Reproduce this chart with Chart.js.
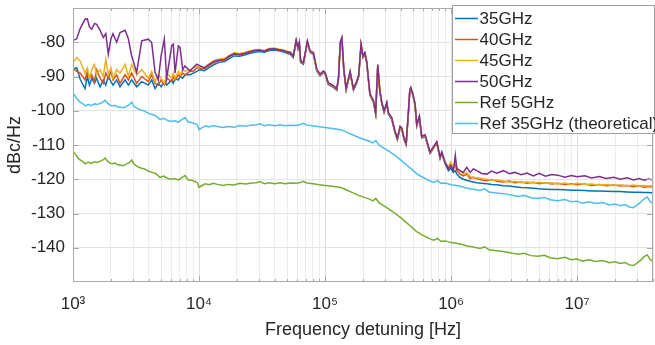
<!DOCTYPE html>
<html>
<head>
<meta charset="utf-8">
<script src="https://cdn.jsdelivr.net/npm/chart.js@4.4.1/dist/chart.umd.min.js"></script>
<style>
  html, body { margin: 0; padding: 0; background: #fff; }
  #wrap { width: 655px; height: 345px; }
</style>
</head>
<body>
<div id="wrap"><canvas id="phaseNoiseChart" width="655" height="345"></canvas></div>
<script>
// frequency points (Hz) shared by the four measured curves
const measFreq = [
  // 1 kHz - 10 kHz
  1000, 1070, 1140, 1245, 1300, 1350, 1410, 1480, 1540, 1640,
  1740, 1820, 1906, 2000, 2077, 2220, 2360, 2590, 2750, 2920,
  3200, 3510, 3960, 4210, 4480, 4750, 5000, 5300, 5540, 6070,
  6250, 6450, 6850, 7070, 7420, 7740, 8480, 9010, 9590, 10200,
  // 10 kHz - 56 kHz
  11000, 12000, 13200, 14500, 16000, 17500, 19000, 21000, 23000, 25000,
  27500, 30000, 33000, 36000, 39500, 43000, 46500, 50000, 53000, 56000,
  // spurs region
  59000, 61000, 62500, 64000, 67300, 72400, 76000, 80800, 86000, 91200,
  97000, 100000, 106000, 116000, 124000, 128000, 132000, 136000, 141000, 147000,
  158000, 168000, 178000, 185000, 193000, 200000, 207000, 214000, 227000, 242000,
  252000, 262000, 272000, 282000, 294000, 309000, 318000, 338000, 359000, 375000,
  394000, 406000, 424000, 440000, 459000, 470000, 479000, 497000, 518000, 534000,
  560000, 585000, 622000, 681000, 724000, 770000, 818000, 844000, 896000, 952000,
  995000,
  // 1 MHz - 40 MHz
  1043000, 1080000, 1110000, 1178000, 1250000, 1330000, 1415000, 1500000, 1600000, 1750000,
  1920000, 2100000, 2300000, 2600000, 2900000, 3200000, 3600000, 4000000, 4500000, 5000000,
  5600000, 6300000, 7000000, 8000000, 9000000, 10000000, 11500000, 13000000, 15000000, 17000000,
  19500000, 22000000, 25000000, 28000000, 31000000, 34000000, 37000000, 40000000
]

const pn35 = [
  -88, -87.4, -90.8, -93.5, -90, -92.5, -90.5, -92, -90.5, -93,
  -91, -92.5, -90, -91.5, -92.5, -91, -93, -91, -92.5, -91,
  -93, -91.5, -92.5, -91, -93.5, -92, -93, -91.5, -92.5, -91,
  -92, -90.5, -91, -90, -90.5, -89.5, -89.5, -89, -88.5, -88,
  -88.3, -87.4, -86.5, -85.8, -85.6, -84.7, -84, -84.1, -83.7, -83.3,
  -82.9, -82.7, -82.9, -82.4, -82.3, -82.5, -82.8, -83.2, -83.5, -84.5,
  -79.8, -82, -80.5, -85.9, -86.4, -80.1, -83, -83.5, -88.4, -89.8,
  -88.9, -89.3, -92.3, -93.1, -94, -90.5, -80.5, -79.1, -88.5, -94,
  -89, -94, -92, -90, -81, -84.5, -83.5, -86, -95.5, -97.5,
  -101, -87, -94.5, -98, -100.5, -98, -101, -102.5, -106.5, -108.5,
  -105, -105.5, -108.5, -110, -100.5, -94.5, -93.7, -95.5, -98.5, -104.5,
  -102, -108, -107.5, -112.5, -111, -109.5, -114, -112.5, -115.5, -117.5,
  -116.8,
  -118, -117.5, -118.5, -119.5, -120, -120.3, -120.6, -120.8, -121, -121.2,
  -121.3, -121.5, -121.6, -121.9, -122, -122.2, -122.4, -122.5, -122.6, -122.8,
  -122.9, -123, -123, -123.1, -123.2, -123.2, -123.3, -123.4, -123.4, -123.5,
  -123.6, -123.6, -123.7, -123.8, -123.8, -123.9, -123.9, -124
]

const pn40 = [
  -87.5, -88.5, -89, -91, -88.5, -90.5, -89.5, -91.5, -88, -90.5,
  -92, -89, -90.5, -88.5, -91, -89.5, -92, -89.5, -91, -89,
  -92, -90, -91.5, -89.5, -92, -92.5, -91, -92.5, -90.5, -91.5,
  -90, -91, -89.5, -90, -89, -89.5, -88.5, -88.5, -87.5, -87.5,
  -87.8, -86.8, -85.9, -85.4, -85.2, -84.2, -83.5, -83.7, -83.4, -82.9,
  -82.5, -82.4, -82.6, -82.1, -82, -82.3, -82.5, -82.9, -83.2, -84.2,
  -79.6, -81.8, -80.3, -85.7, -86.2, -79.9, -82.8, -83.3, -88.2, -89.6,
  -88.7, -89.1, -92.1, -92.9, -93.8, -90.3, -80.3, -78.9, -88.3, -93.8,
  -88.8, -93.8, -91.8, -89.8, -80.8, -84.3, -83.3, -85.8, -95.3, -97.3,
  -100.8, -86.8, -94.3, -97.8, -100.3, -97.8, -100.8, -102.3, -106.3, -108.3,
  -104.8, -105.3, -108.3, -109.8, -100.3, -94.3, -93.5, -95.3, -98.3, -104.3,
  -101.8, -107.8, -107.3, -112.3, -110.8, -109.3, -113.8, -112.3, -115.3, -116.6,
  -115.5,
  -117, -115.5, -117.5, -118.5, -119, -118.5, -119.8, -119.4, -119.9, -120.2,
  -120.4, -120.1, -120.6, -120.8, -120.5, -121, -120.8, -121.2, -120.9, -121.3,
  -121, -121.4, -121.2, -121.5, -121.3, -121.6, -121.4, -121.8, -121.5, -121.9,
  -121.7, -122, -121.8, -122.2, -121.9, -122.3, -122.1, -122.3
]

const pn45 = [
  -86, -84.5, -85.5, -89, -87.5, -90.5, -88, -86.5, -89.5, -88,
  -90, -85, -89.5, -87.5, -90.5, -88, -89, -86.5, -90, -86.5,
  -89.5, -88, -90.5, -88.5, -91.5, -89.5, -90.5, -92, -89, -90.5,
  -89, -90.5, -88.5, -89.5, -88, -88.5, -88, -87.5, -87, -87.2,
  -87.4, -86.3, -85.3, -84.9, -84.7, -83.8, -83.1, -83.3, -83, -82.6,
  -82.2, -82.1, -82.4, -81.8, -81.7, -82, -82.2, -82.6, -82.8, -83.8,
  -79.4, -81.6, -80.1, -85.5, -86, -79.7, -82.6, -83.1, -88, -89.4,
  -88.5, -88.9, -91.9, -92.7, -93.6, -90.1, -80.1, -78.7, -88.1, -93.6,
  -88.6, -93.6, -91.6, -89.6, -80.6, -84.1, -83.1, -85.6, -95.1, -97.1,
  -100.6, -86.6, -94.1, -97.6, -100.1, -97.6, -100.6, -102.1, -106.1, -108.1,
  -104.6, -105.1, -108.1, -109.6, -100.1, -94.1, -93.3, -95.1, -98.1, -104.1,
  -101.6, -107.6, -107.1, -112.1, -110.6, -109.1, -113.6, -112.1, -115.1, -116.2,
  -115,
  -116.5, -114.5, -116.5, -117.5, -118.5, -118, -119.2, -119.6, -119.5, -119.8,
  -120, -120.3, -120.2, -120.5, -120.9, -120.6, -121, -120.7, -121.1, -120.9,
  -121.2, -121, -121.4, -121.1, -121.5, -121.2, -121.5, -121.4, -121.7, -121.5,
  -121.8, -121.6, -121.9, -121.7, -122, -121.8, -122, -121.9
]

const pn50 = [
  -79.5, -79, -76, -73.3, -73.2, -75.5, -76.2, -74.5, -74.8, -76.5,
  -78.6, -77.5, -83.5, -79, -77.5, -80, -77.2, -76.5, -79, -84,
  -88.8, -79.6, -79.1, -80.1, -88.8, -91, -84, -79.1, -90.5, -81,
  -80.6, -89, -81.1, -81.5, -88, -86.9, -88.4, -87.4, -86.4, -86.9,
  -87.5, -86.5, -85.5, -85.2, -85, -84, -83.3, -83.6, -83.2, -82.8,
  -82.4, -82.3, -82.6, -82, -81.9, -82.2, -82.4, -82.8, -83, -84,
  -79.3, -81.5, -80, -85.4, -85.9, -79.6, -82.5, -83, -87.9, -89.3,
  -88.4, -88.8, -91.8, -92.6, -93.5, -90, -80, -78.6, -88, -93.5,
  -88.5, -93.5, -91.5, -89.5, -80.5, -84, -83, -85.5, -95, -97,
  -100.5, -86.5, -94, -97.5, -100, -97.5, -100.5, -102, -106, -108,
  -104.5, -105, -108, -109.5, -100, -94, -93.2, -95, -98, -104,
  -101.5, -107.5, -107, -112, -110.5, -109, -113.5, -112, -115, -117,
  -116,
  -117.5, -113, -117, -117.5, -118, -116.5, -118, -117, -117.5, -118.3,
  -118.5, -117.6, -118.2, -117.5, -118.4, -118, -118.7, -118.2, -119, -118.3,
  -119.1, -118.6, -118.8, -119.4, -118.9, -119.3, -119, -119.6, -119.2, -119.8,
  -119.4, -120, -119.6, -120.2, -119.8, -120.3, -119.9, -120.2
]

// frequency points (Hz) for the two reference curves
const refFreq = [
  1000, 1040, 1080, 1130, 1190, 1250, 1320, 1400, 1480, 1560,
  1650, 1740, 1800, 1870, 1950, 2050, 2150, 2270, 2400, 2520,
  2650, 2800, 2920, 3050, 3250, 3450, 3700, 3950, 4250, 4550,
  4900, 5250, 5600, 6000, 6400, 6850, 7300, 7750, 8200, 8700,
  9200, 9700, 10000, 10500, 11200, 12000, 13000, 14000, 15500, 17000,
  19000, 21000, 23500, 26000, 28500, 30500, 33000, 36000, 40000, 44000,
  48000, 53000, 58000, 63000, 67000, 72000, 80000, 90000, 100000, 110000,
  122000, 135000, 150000, 165000, 185000, 205000, 225000, 240000, 253000, 270000,
  300000, 330000, 360000, 400000, 440000, 480000, 530000, 580000, 630000, 680000,
  730000, 780000, 830000, 900000, 1000000, 1100000, 1200000, 1350000, 1500000, 1700000,
  1850000, 2000000, 2300000, 2600000, 3000000, 3400000, 3800000, 4300000, 4900000, 5500000,
  6100000, 7000000, 8000000, 9000000, 10000000, 11000000, 12500000, 14000000, 16000000, 18000000,
  20000000, 22000000, 24000000, 26000000, 28000000, 30000000, 32000000, 34000000, 36000000, 38000000,
  40000000
]

const ref5 = [
  -111.8, -112.6, -113.5, -114.3, -114.8, -115.5, -115, -115.4, -114.9, -115.1,
  -114.7, -114.3, -113.8, -114.6, -115.2, -115.5, -115.3, -115.8, -115.9, -116,
  -115.6, -115.1, -114.4, -115.6, -116.3, -116.7, -117, -117.6, -118, -118.4,
  -119.5, -119.1, -119.7, -120, -119.8, -120.2, -119.5, -118.9, -120.2, -120.3,
  -120.6, -121, -122.4, -121.9, -121.3, -121.6, -121.2, -121.5, -121.8, -121.5,
  -121.7, -121.2, -121.4, -121.1, -121, -120.7, -121.3, -121, -121.3, -121,
  -121.3, -121.1, -121.2, -121, -120.6, -121.1, -121.3, -121.6, -121.8, -122,
  -122.2, -122.5, -123.2, -123.9, -124.7, -125.3, -125.8, -126.3, -125.6, -127,
  -128, -129, -130, -131.3, -132.6, -133.8, -135.2, -136.1, -136.8, -137.4,
  -137.8, -137.3, -138.1, -138, -138.5, -138.7, -139, -139.5, -139.8, -140.2,
  -139.7, -140.6, -140.9, -141.1, -141.5, -141.9, -141.6, -142.3, -142.5, -142.2,
  -142.9, -143.2, -142.8, -143.5, -143.3, -143.9, -143.5, -144, -143.7, -144.4,
  -144.1, -144.6, -144.3, -145, -145.2, -144.4, -143.6, -142.6, -142.1, -143.4,
  -144
]

const ref35 = [
  -94.9, -95.7, -96.6, -97.4, -97.9, -98.6, -98.1, -98.5, -98, -98.2,
  -97.8, -97.4, -96.9, -97.7, -98.3, -98.6, -98.4, -98.9, -99, -99.1,
  -98.7, -98.2, -97.5, -98.7, -99.4, -99.8, -100.1, -100.7, -101.1, -101.5,
  -102.6, -102.2, -102.8, -103.1, -102.9, -103.3, -102.6, -102, -103.3, -103.4,
  -103.7, -104.1, -105.5, -105, -104.4, -104.7, -104.3, -104.6, -104.9, -104.6,
  -104.8, -104.3, -104.5, -104.2, -104.1, -103.8, -104.4, -104.1, -104.4, -104.1,
  -104.4, -104.2, -104.3, -104.1, -103.7, -104.2, -104.4, -104.7, -104.9, -105.1,
  -105.3, -105.6, -106.3, -107, -107.8, -108.4, -108.9, -109.4, -108.7, -110.1,
  -111.1, -112.1, -113.1, -114.4, -115.7, -116.9, -118.3, -119.2, -119.9, -120.5,
  -120.9, -120.4, -121.2, -121.1, -121.6, -121.8, -122.1, -122.6, -122.9, -123.3,
  -122.8, -123.7, -124, -124.2, -124.6, -125, -124.7, -125.4, -125.6, -125.3,
  -126, -126.3, -125.9, -126.6, -126.4, -127, -126.6, -127.1, -126.8, -127.5,
  -127.2, -127.7, -127.4, -128.1, -128.3, -127.5, -126.7, -125.7, -125.2, -126.5,
  -127.1
]

const seriesLabels = ['35GHz', '40GHz', '45GHz', '50GHz', 'Ref 5GHz', 'Ref 35GHz (theoretical)']
const seriesColors = ['#0072BD', '#D95319', '#EDB120', '#7E2F8E', '#77AC30', '#4DBEEE']

const xMajorTicks = [1e3, 1e4, 1e5, 1e6, 1e7]
const xTickLabels = ['10³', '10⁴', '10⁵', '10⁶', '10⁷']
const yTicks = [-140, -130, -120, -110, -100, -90, -80]

const FONT = '"Liberation Sans", Arial, Helvetica, sans-serif'
const toPoints = (xs, ys) => xs.map((f, i) => ({ x: f, y: ys[i] }))

const seriesData = [
  toPoints(measFreq, pn35),
  toPoints(measFreq, pn40),
  toPoints(measFreq, pn45),
  toPoints(measFreq, pn50),
  toPoints(refFreq, ref5),
  toPoints(refFreq, ref35)
]

// box round the axes with small inward ticks, like matlab
const frameTicks = {
  id: 'frameTicks',
  afterDatasetsDraw(chart) {
    const { ctx, chartArea: a, scales: { x, y } } = chart
    ctx.save()
    ctx.strokeStyle = '#a9a9a9'
    ctx.lineWidth = 1
    ctx.beginPath()
    ctx.rect(a.left + 0.5, a.top + 0.5, a.right - a.left - 1, a.bottom - a.top - 1)
    x.ticks.forEach(t => {
      const px = Math.round(x.getPixelForValue(t.value)) + 0.5
      const len = xMajorTicks.includes(t.value) ? 6 : 3
      ctx.moveTo(px, a.bottom); ctx.lineTo(px, a.bottom - len)
      ctx.moveTo(px, a.top); ctx.lineTo(px, a.top + len)
    })
    yTicks.forEach(v => {
      const py = Math.round(y.getPixelForValue(v)) + 0.5
      ctx.moveTo(a.left, py); ctx.lineTo(a.left + 6, py)
      ctx.moveTo(a.right, py); ctx.lineTo(a.right - 6, py)
    })
    ctx.stroke()
    ctx.restore()
  }
}

// legend box sitting in the top right corner
const cornerLegend = {
  id: 'cornerLegend',
  afterDraw(chart) {
    const { ctx } = chart
    const bx = 452.5, by = 5.5, bw = 202, bh = 128
    ctx.save()
    ctx.fillStyle = '#ffffff'
    ctx.fillRect(bx, by, bw, bh)
    ctx.strokeStyle = '#a0a0a0'
    ctx.lineWidth = 1
    ctx.strokeRect(bx, by, bw, bh)
    ctx.font = '17px ' + FONT
    ctx.textBaseline = 'middle'
    ctx.textAlign = 'left'
    chart.data.datasets.forEach((ds, i) => {
      const rowY = 18.5 + i * 21
      ctx.strokeStyle = ds.borderColor
      ctx.lineWidth = 1.5
      ctx.beginPath()
      ctx.moveTo(455, rowY); ctx.lineTo(478, rowY)
      ctx.stroke()
      ctx.fillStyle = '#262626'
      ctx.fillText(ds.label, 479.5, rowY + 0.5)
    })
    ctx.restore()
  }
}

const ctx = document.getElementById('phaseNoiseChart').getContext('2d')
new Chart(ctx, {
  type: 'line',
  data: {
    datasets: seriesLabels.map((label, i) => ({
      label: label,
      data: seriesData[i],
      borderColor: seriesColors[i],
      backgroundColor: seriesColors[i],
      borderWidth: 1.5,
      pointRadius: 0,
      tension: 0,
      fill: false,
      order: seriesLabels.length - i
    }))
  },
  options: {
    responsive: false,
    animation: false,
    devicePixelRatio: 1,
    layout: { padding: { top: 8, right: 2, left: 0, bottom: 0 } },
    plugins: {
      legend: { display: false },
      tooltip: { enabled: false }
    },
    scales: {
      x: {
        type: 'logarithmic',
        min: 1000,
        max: 4e7,
        afterFit: s => { s.height = 63; s.paddingLeft = 0; s.paddingRight = 0 },
        afterBuildTicks: s => {
          const ticks = []
          xMajorTicks.forEach(d => {
            for (let m = 1; m <= 9; m++) {
              if (d * m <= 4e7) ticks.push({ value: d * m, major: m === 1 })
            }
          })
          s.ticks = ticks
        },
        ticks: {
          autoSkip: false,
          maxRotation: 0,
          padding: 12,
          color: '#262626',
          font: { family: FONT, size: 17 },
          callback: v => {
            const k = xMajorTicks.indexOf(v)
            return k >= 0 ? xTickLabels[k] : ''
          }
        },
        grid: {
          drawTicks: false,
          color: c => (c.tick && xMajorTicks.includes(c.tick.value)) ? '#dedede' : '#ececec',
          lineWidth: 1
        },
        border: { display: false },
        title: {
          display: true,
          text: 'Frequency detuning [Hz]',
          color: '#262626',
          font: { family: FONT, size: 18 }
        }
      },
      y: {
        min: -150,
        max: -70,
        afterFit: s => { s.width = 73; s.paddingTop = 0; s.paddingBottom = 0 },
        afterBuildTicks: s => { s.ticks = yTicks.map(v => ({ value: v })) },
        ticks: {
          padding: 8,
          color: '#262626',
          font: { family: FONT, size: 17 }
        },
        grid: {
          drawTicks: false,
          color: '#e3e3e3',
          lineWidth: 1
        },
        border: { display: false },
        title: {
          display: true,
          text: 'dBc/Hz',
          color: '#262626',
          font: { family: FONT, size: 18 }
        }
      }
    }
  },
  plugins: [frameTicks, cornerLegend]
})
</script>
</body>
</html>
